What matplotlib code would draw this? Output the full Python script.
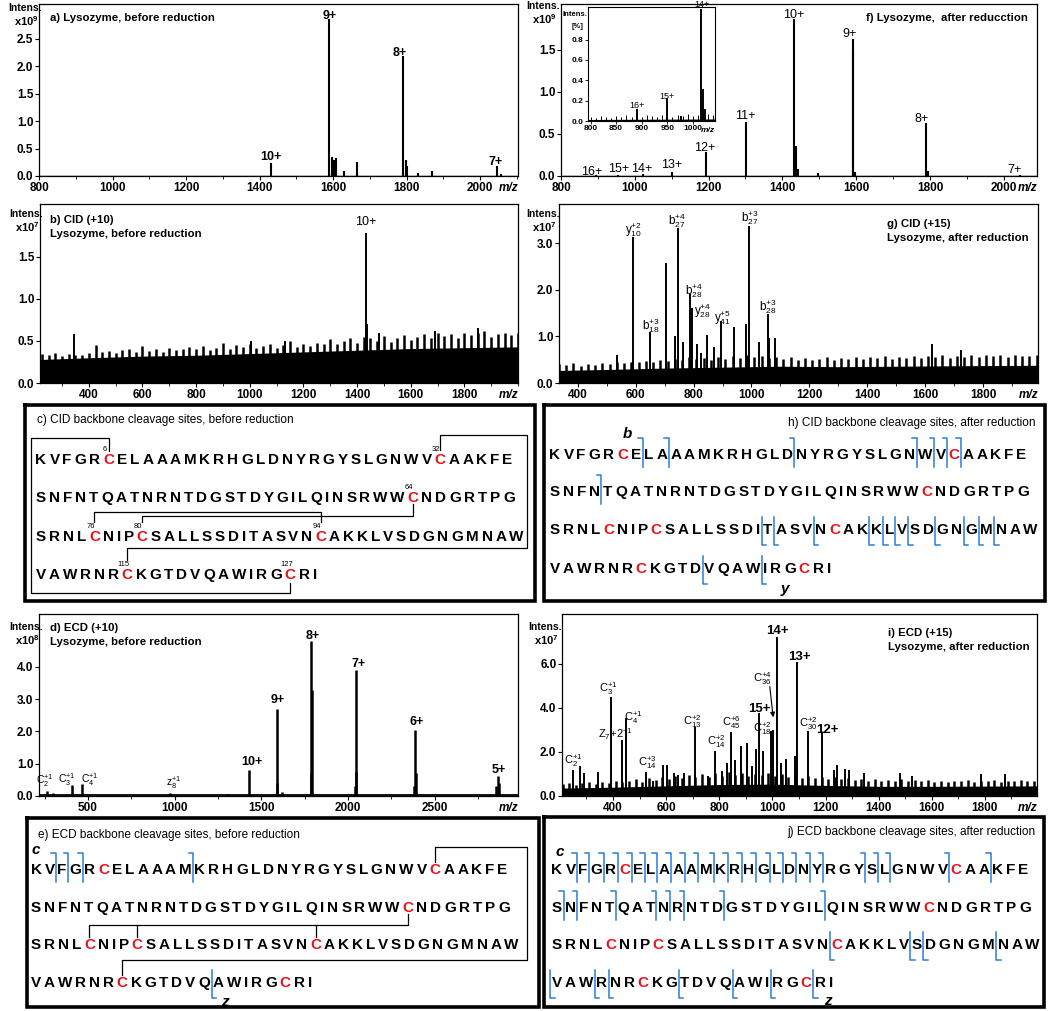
import numpy as np
import matplotlib
matplotlib.use("Agg")
import matplotlib.pyplot as plt
from matplotlib.ticker import MultipleLocator

plt.rcParams['font.family'] = ['Liberation Sans', 'DejaVu Sans']
plt.rcParams['mathtext.fontset'] = 'custom'
plt.rcParams['mathtext.rm'] = 'Liberation Sans'
plt.rcParams['mathtext.bf'] = 'Liberation Sans:bold'
plt.rcParams['mathtext.default'] = 'rm'
NARROW = ['Liberation Sans Narrow', 'Liberation Sans', 'DejaVu Sans']

# ---------------- spectra values ----------------
# a) intact, before reduction  (x1e9)
a_mz = [1432, 1590, 1597, 1603, 1608, 1630, 1665, 1789, 1797, 1802, 1830, 1870, 2045, 2058]
a_int = [0.24, 2.85, 0.34, 0.30, 0.32, 0.09, 0.26, 2.19, 0.30, 0.19, 0.05, 0.09, 0.19, 0.03]
a_charge = ["10+", "9+", "8+", "7+"]

# f) intact, after reduction  (x1e9)
f_mz = [895, 955, 1023, 1100, 1193, 1301, 1431, 1436, 1441, 1497, 1590, 1592, 1597, 1789, 1794, 2045]
f_int = [0.01, 0.01, 0.02, 0.05, 0.28, 0.64, 1.86, 0.35, 0.08, 0.04, 1.62, 1.50, 0.05, 0.63, 0.06, 0.01]
f_charge = ["16+", "15+", "14+", "13+", "12+", "11+", "10+", "9+", "8+", "7+"]
# f) inset (relative)
fi_mz = [890, 949, 977, 1016, 1019, 1024]
fi_int = [0.12, 0.23, 0.05, 1.10, 0.31, 0.12]
fi_noise = [0.04, 0.03, 0.05, 0.04, 0.03, 0.05, 0.04, 0.06, 0.04, 0.05, 0.04, 0.06, 0.05,
            0.04, 0.06, 0.05, 0.04, 0.06, 0.05, 0.07, 0.05, 0.06, 0.08, 0.07, 0.06]
fi_charge = ["16+", "15+", "14+"]

# b) CID (+10) before reduction  (x1e7)
b_mz = [345, 1005, 1130, 1432, 1437, 1480, 1690, 1850]
b_int = [0.58, 0.50, 0.50, 1.78, 0.70, 0.60, 0.62, 0.66]
b_noise = [0.34, 0.33, 0.36, 0.32, 0.35, 0.33, 0.33, 0.36, 0.45, 0.37,
           0.38, 0.36, 0.39, 0.41, 0.37, 0.44, 0.38, 0.40, 0.37, 0.42,
           0.39, 0.41, 0.43, 0.40, 0.44, 0.39, 0.42, 0.48, 0.41, 0.45,
           0.43, 0.47, 0.42, 0.44, 0.46, 0.42, 0.45, 0.50, 0.43, 0.47,
           0.44, 0.48, 0.46, 0.52, 0.47, 0.50, 0.54, 0.48, 0.55, 0.53,
           0.50, 0.56, 0.49, 0.54, 0.57, 0.51, 0.55, 0.58, 0.53, 0.60,
           0.56, 0.58, 0.54, 0.60, 0.57, 0.59, 0.62, 0.55, 0.58, 0.60,
           0.57, 0.59]
b_floor_mz = [218, 400, 600, 800, 1000, 1200, 1400, 1600, 1800, 2000]
b_floor = [0.28, 0.30, 0.32, 0.33, 0.35, 0.37, 0.39, 0.41, 0.42, 0.43]

# g) CID (+15) after reduction  (x1e7)
g_mz = [535, 592, 648, 704, 735, 746, 765, 788, 792, 796, 812, 825, 845, 870, 895,
        940, 980, 992, 1025, 1056, 1062, 1080, 1625, 1725]
g_int = [0.60, 3.14, 1.09, 2.57, 1.01, 3.33, 0.89, 1.90, 1.00, 1.60, 0.83, 0.64, 1.04, 0.78, 1.33,
         1.20, 1.27, 3.36, 0.89, 1.47, 0.96, 0.96, 0.84, 0.71]
g_ions = ["y$_{10}^{+2}$", "b$_{18}^{+3}$", "b$_{27}^{+4}$", "b$_{28}^{+4}$", "y$_{28}^{+4}$",
          "y$_{41}^{+5}$", "b$_{27}^{+3}$", "b$_{28}^{+3}$"]
g_noise = [0.40, 0.38, 0.42, 0.37, 0.41, 0.39, 0.43, 0.40, 0.45, 0.42,
           0.46, 0.44, 0.48, 0.45, 0.50, 0.47, 0.52, 0.49, 0.55, 0.51,
           0.53, 0.50, 0.56, 0.52, 0.58, 0.54, 0.60, 0.55, 0.58, 0.53,
           0.56, 0.52, 0.55, 0.50, 0.53, 0.49, 0.52, 0.55, 0.50, 0.54,
           0.52, 0.56, 0.51, 0.55, 0.53, 0.57, 0.52, 0.56, 0.54, 0.58,
           0.53, 0.57, 0.55, 0.59, 0.54, 0.58, 0.56, 0.60, 0.55, 0.59,
           0.57, 0.61, 0.56, 0.60, 0.58, 0.57, 0.59]
g_floor_mz = [335, 500, 700, 900, 1100, 1300, 1500, 1700, 1990]
g_floor = [0.27, 0.29, 0.32, 0.34, 0.36, 0.35, 0.36, 0.37, 0.38]

# d) ECD (+10) before reduction  (x1e8)
d_mz = [265, 300, 410, 467, 975, 1309, 1431, 1590, 1593, 1620, 1787, 1789, 1792,
        2042, 2044, 2048, 2383, 2385, 2389, 2855, 2862, 2868]
d_int = [0.15, 0.08, 0.35, 0.38, 0.10, 0.05, 0.82, 2.71, 0.40, 0.12, 0.70, 4.80, 3.30,
         0.30, 3.92, 0.75, 0.30, 2.04, 0.70, 0.30, 0.62, 0.40]
d_ions = ["C$_2^{+1}$", "C$_3^{+1}$", "C$_4^{+1}$", "z$_8^{+1}$"]
d_charge = ["10+", "9+", "8+", "7+", "6+", "5+"]

# i) ECD (+15) after reduction  (x1e7)
i_mz = [250, 275, 291, 344, 394, 435, 450, 525, 550, 588, 604, 629, 646, 666, 710, 756,
        785, 812, 829, 846, 859, 881, 906, 925, 939, 951, 966, 994, 1004, 1019, 1034,
        1052, 1084, 1094, 1134, 1185, 1231, 1244, 1275, 1288, 1344, 1481, 1525, 1787, 1875]
i_int = [1.18, 1.36, 1.03, 1.10, 4.52, 2.56, 3.55, 1.09, 0.68, 1.40, 1.43, 1.06, 0.94, 1.06, 3.14, 0.90,
         2.04, 1.13, 1.50, 2.91, 1.63, 2.26, 2.41, 1.36, 2.14, 3.77, 2.04, 2.94, 3.00, 7.24, 1.50,
         1.66, 1.80, 6.10, 2.94, 2.87, 1.20, 1.43, 1.24, 1.20, 1.06, 1.06, 0.90, 0.98, 0.98]
i_ions = ["C$_2^{+1}$", "C$_3^{+1}$", "Z$_7$+2$^{+1}$", "C$_4^{+1}$", "C$_{14}^{+3}$", "C$_{13}^{+2}$",
          "C$_{14}^{+2}$", "C$_{45}^{+6}$", "C$_{18}^{+2}$", "C$_{36}^{+4}$", "C$_{30}^{+2}$"]
i_charge = ["15+", "14+", "13+", "12+"]
i_noise = [0.55, 0.60, 0.52, 0.58, 0.62, 0.55, 0.65, 0.60, 0.70, 0.62,
           0.68, 0.75, 0.65, 0.80, 0.72, 0.85, 0.75, 0.90, 0.80, 0.95,
           0.85, 1.00, 0.88, 1.05, 0.92, 1.10, 0.95, 1.05, 0.90, 1.00,
           0.95, 1.05, 0.90, 1.00, 0.85, 0.95, 0.82, 0.90, 0.80, 0.85,
           0.78, 0.85, 0.75, 0.80, 0.72, 0.78, 0.70, 0.75, 0.68, 0.72,
           0.70, 0.78, 0.68, 0.74, 0.66, 0.72, 0.65, 0.70, 0.64, 0.70,
           0.66, 0.72, 0.64, 0.70, 0.66, 0.74, 0.65, 0.70, 0.68, 0.72,
           0.66, 0.70]
i_floor_mz = [208, 400, 600, 800, 1000, 1200, 1400, 1600, 1800, 1996]
i_floor = [0.36, 0.40, 0.46, 0.52, 0.54, 0.48, 0.44, 0.44, 0.45, 0.46]

# ---------------- sequence panels ----------------
SEQ = ("KVFGRCELAAAMKRHGLDNYRGYSLGNWVCAAKFE"
       "SNFNTQATNRNTDGSTDYGILQINSRWWCNDGRTPG"
       "SRNLCNIPCSALLSSDITASVNCAKKLVSDGNGMNAW"
       "VAWRNRCKGTDVQAWIRGCRI")
ROW_LEN = [35, 36, 37, 21]
CYS_LABEL = {6: "6", 30: "32", 64: "64", 76: "76", 80: "80", 94: "94", 115: "115", 127: "127"}
# cleavage sites: number = residue after which the backbone is cut
h_b_sites = [7, 9, 18, 27, 28, 29, 30, 39]
h_y_sites = [88, 89, 92, 96, 97, 98, 99, 101, 103, 104, 105, 119, 123]
e_c_sites = [2, 3, 4, 12]
e_z_sites = [121]
j_c_sites = [2, 3, 4, 5, 6, 7, 8, 9, 10, 11, 12, 13, 14, 15, 16, 17, 18, 19, 20, 23, 24, 25,
             29, 32, 36, 37, 40, 43, 44, 45, 48, 56]
j_z_sites = [93, 99, 100, 105, 108, 111, 112, 117, 121, 124, 127]

# Arial / Liberation Sans Bold advance widths (1/1000 em)
ADV = {'A': 722, 'C': 722, 'D': 722, 'E': 667, 'F': 611, 'G': 778, 'H': 722, 'I': 278,
       'K': 722, 'L': 611, 'M': 833, 'N': 722, 'P': 667, 'Q': 778, 'R': 722, 'S': 667,
       'T': 611, 'V': 667, 'W': 944, 'Y': 667}

W, H = 1050, 1011
fig = plt.figure(figsize=(W / 100, H / 100), dpi=100)
fig.patch.set_facecolor('white')
RED = '#e8141c'
BLUE = '#2a7fd4'


def px_axes(l, t, r, b):
    return fig.add_axes([l / W, 1 - b / H, (r - l) / W, (b - t) / H])


def spectrum(l, t, r, b, xlim, ylim, xt, yt, xminor=None, fs=8.5):
    ax = px_axes(l, t, r, b)
    ax.set_xlim(xlim)
    ax.set_ylim(ylim)
    ax.set_xticks(xt)
    ax.set_yticks(yt)
    ax.set_xticklabels([str(v) for v in xt], fontweight='bold', fontsize=fs)
    ax.set_yticklabels(['%.1f' % v for v in yt], fontweight='bold', fontsize=fs)
    if xminor:
        ax.xaxis.set_minor_locator(MultipleLocator(xminor))
    ax.tick_params(direction='out', length=3, width=0.8, pad=1)
    ax.tick_params(which='minor', direction='out', length=2, width=0.6)
    for s in ax.spines.values():
        s.set_linewidth(0.9)
    return ax


def mz_label(ax, fs=8.5):
    ax.text(1.0, -0.035, 'm/z', transform=ax.transAxes, ha='right', va='top',
            fontsize=fs, style='italic', weight='bold')


def intens(x, y, exp):
    fig.text(x / W, 1 - y / H, 'Intens.', ha='right', va='center', fontsize=7.5,
             weight='bold', family=NARROW)
    fig.text((x - 3) / W, 1 - (y + 13) / H, 'x10$^{\\mathbf{%s}}$' % exp, ha='right',
             va='center', fontsize=8, weight='bold', family=NARROW)


def title(x, y, lines, ha='left'):
    for k, s in enumerate(lines):
        fig.text(x / W, 1 - (y + 14 * k) / H, s, ha=ha, va='center', fontsize=8.2,
                 weight='bold', family=NARROW)


def noise(ax, floor_mz, floor, grid, tops):
    ax.fill_between(floor_mz, 0, floor, color='black', lw=0)
    ax.vlines(grid, 0, tops, color='black', lw=1.8)


# ---- a
ax = spectrum(39, 4, 518, 176, (800, 2103), (0, 3.13), list(range(800, 2001, 200)),
              [0.0, 0.5, 1.0, 1.5, 2.0, 2.5], 100)
ax.vlines(a_mz, 0, a_int, color='black', lw=1.5)
ax.hlines(0.005, 800, 2103, color='black', lw=1.0)
for lab, x, y in zip(a_charge, [1430, 1590, 1780, 2043], [0.35, 2.92, 2.23, 0.26]):
    ax.text(x, y, lab, ha='center', va='center', fontsize=9, weight='bold')
mz_label(ax)
intens(42, 8, '9')
title(50, 18, ["a) Lysozyme, before reduction"])

# ---- f
ax = spectrum(561, 4, 1037, 176, (800, 2090), (0, 2.04), list(range(800, 2001, 200)),
              [0.0, 0.5, 1.0, 1.5], 100)
ax.vlines(f_mz, 0, f_int, color='black', lw=1.5)
ax.hlines(0.004, 800, 2090, color='black', lw=1.0)
f_lx = [883, 955, 1019, 1100, 1190, 1299, 1430, 1583, 1777, 2030]
f_ly = [0.05, 0.08, 0.08, 0.13, 0.33, 0.71, 1.91, 1.69, 0.68, 0.07]
for lab, x, y in zip(f_charge, f_lx, f_ly):
    ax.text(x, y, lab, ha='center', va='center', fontsize=9)
mz_label(ax)
intens(560, 6, '9')
title(1028, 18, ["f) Lysozyme,  after reducction"], ha='right')

axi = px_axes(588, 7, 715, 121)
axi.set_xlim(795, 1043)
axi.set_ylim(0, 1.12)
axi.set_xticks([800, 850, 900, 950, 1000])
axi.set_yticks([0.0, 0.2, 0.4, 0.6, 0.8])
axi.set_xticklabels(['800', '850', '900', '950', '1000'], fontsize=6, weight='bold')
axi.set_yticklabels(['0.0', '0.2', '0.4', '0.6', '0.8'], fontsize=6, weight='bold')
axi.tick_params(direction='out', length=2, width=0.6, pad=1)
axi.fill_between([795, 1043], 0, [0.015, 0.02], color='black', lw=0)
axi.vlines(np.arange(800, 1041, 10), 0, fi_noise, color='black', lw=0.7)
axi.vlines(fi_mz, 0, fi_int, color='black', lw=1.4)
for lab, x, y in zip(fi_charge, [891, 950, 1017], [0.15, 0.24, 1.14]):
    axi.text(x, y, lab, ha='center', va='center', fontsize=6.5)
axi.text(1.0, -0.05, 'm/z', transform=axi.transAxes, ha='right', va='top', fontsize=6,
         style='italic', weight='bold')
fig.text(587 / W, 1 - 14 / H, 'Intens.', ha='right', va='center', fontsize=5.5, weight='bold')
fig.text(584 / W, 1 - 26 / H, '[%]', ha='right', va='center', fontsize=5.5, weight='bold')

# ---- b
ax = spectrum(40, 204, 518, 383, (218, 2000), (0, 2.13), list(range(400, 1801, 200)),
              [0.0, 0.5, 1.0, 1.5], 100)
noise(ax, b_floor_mz, b_floor, np.arange(225, 2001, 25), b_noise)
ax.vlines(b_mz, 0, b_int, color='black', lw=1.4)
ax.text(1434, 1.92, "10+", ha='center', va='center', fontsize=9)
mz_label(ax)
intens(43, 214, '7')
title(50, 220, ["b) CID (+10)", "Lysozyme, before reduction"])

# ---- g
ax = spectrum(559, 204, 1038, 383, (335, 1990), (0, 3.84), list(range(400, 1801, 200)),
              [0.0, 1.0, 2.0, 3.0], 100)
noise(ax, g_floor_mz, g_floor, np.arange(335, 1986, 25), g_noise)
ax.vlines(g_mz, 0, g_int, color='black', lw=1.4)
g_lx = [594, 653, 743, 802, 830, 899, 996, 1055]
g_ly = [3.28, 1.24, 3.49, 1.99, 1.56, 1.41, 3.54, 1.63]
for lab, x, y in zip(g_ions, g_lx, g_ly):
    ax.text(x, y, lab, ha='center', va='center', fontsize=8.5)
mz_label(ax)
intens(560, 214, '7')
title(887, 224, ["g) CID (+15)", "Lysozyme, after reduction"])

# ---- d
ax = spectrum(39, 614, 518, 796, (218, 2980), (0, 5.64), [500, 1000, 1500, 2000, 2500],
              [0.0, 1.0, 2.0, 3.0, 4.0], 250)
ax.hlines(0.03, 218, 2980, color='black', lw=1.3)
ax.vlines(d_mz, 0, d_int, color='black', lw=1.8)
for lab, x, y in zip(d_ions, [253, 378, 512, 992], [0.47, 0.5, 0.5, 0.4]):
    ax.text(x, y, lab, ha='center', va='center', fontsize=7.5)
for lab, x, y in zip(d_charge, [1447, 1597, 1799, 2058, 2395, 2869],
                     [1.05, 2.97, 4.97, 4.1, 2.28, 0.82]):
    ax.text(x, y, lab, ha='center', va='center', fontsize=9, weight='bold')
mz_label(ax)
intens(43, 627, '8')
title(50, 628, ["d) ECD (+10)", "Lysozyme, before reduction"])

# ---- i
ax = spectrum(562, 614, 1037, 796, (208, 1996), (0, 8.27), list(range(400, 1801, 200)),
              [0.0, 2.0, 4.0, 6.0], 100)
noise(ax, i_floor_mz, i_floor, np.arange(210, 1986, 25), i_noise)
ax.vlines(i_mz, 0, i_int, color='black', lw=1.4)
i_lx = [250, 381, 410, 478, 531, 700, 790, 845, 962, 962, 1137]
i_ly = [1.62, 4.9, 2.8, 3.55, 1.5, 3.4, 2.45, 3.35, 3.05, 5.35, 3.3]
for lab, x, y in zip(i_ions, i_lx, i_ly):
    ax.text(x, y, lab, ha='center', va='center', fontsize=8)
for lab, x, y in zip(i_charge, [950, 1019, 1100, 1205], [3.95, 7.5, 6.3, 3.0]):
    ax.text(x, y, lab, ha='center', va='center', fontsize=9.5, weight='bold')
ax.annotate('', xy=(1004, 3.45), xytext=(989, 5.1),
            arrowprops=dict(arrowstyle='-|>', lw=0.8, color='black', mutation_scale=7))
mz_label(ax)
intens(562, 627, '7')
title(888, 633, ["i) ECD (+15)", "Lysozyme, after reduction"])

# ---------------- overlay in pixel coordinates for the sequence boxes ----------------
ov = fig.add_axes([0, 0, 1, 1])
ov.set_xlim(0, W)
ov.set_ylim(H, 0)
ov.axis('off')

FS_PX = 15.2
FS_PT = FS_PX * 0.72
GAP = 2.9
CAP = 0.716 * FS_PX


def seq_layout(x0, row_ys):
    pos = {}
    n = 1
    for r, length in enumerate(ROW_LEN):
        x = x0
        prev = None
        for k in range(length):
            w = ADV[SEQ[n - 1]] * FS_PX / 1000
            if prev is not None:
                x += (prev + w) / 2 + GAP
            pos[n] = (x, row_ys[r], w)
            prev = w
            n += 1
    return pos


def draw_seq(pos):
    for n, (x, y, w) in pos.items():
        ch = SEQ[n - 1]
        ov.text(x, y + CAP / 2, ch, ha='center', va='baseline', fontsize=FS_PT,
                weight='bold', color=RED if ch == 'C' else 'black')


def n_mark(pos, n):
    x, y, w = pos[n]
    xb = x + w / 2 + GAP / 2
    ov.plot([xb - 4.5, xb, xb], [y - 16, y - 16, y + 13], color=BLUE, lw=1.1)


def c_mark(pos, n):
    x, y, w = pos[n + 1]
    xb = x - w / 2 - GAP / 2
    ov.plot([xb, xb, xb + 4.5], [y - 12, y + 16, y + 16], color=BLUE, lw=1.1)


def box(l, t, r, b):
    ov.plot([l, r, r, l, l], [t, t, b, b, t], color='black', lw=2.6, solid_joinstyle='miter')


def bond(xs, ys):
    ov.plot(xs, ys, color='black', lw=0.9)


box(25, 405, 535, 601)
box(544, 405, 1045, 601)
box(27, 818, 539, 1007)
box(544, 817, 1044, 1007)

# c) CID before reduction
pc = seq_layout(41, [459, 497, 536, 574])
draw_seq(pc)
for n, s in CYS_LABEL.items():
    x, y, w = pc[n]
    ov.text(x - 4, y - 6, s, ha='center', va='bottom', fontsize=5.5)
x = {n: pc[n][0] for n in CYS_LABEL}
bond([x[6], x[6], 31, 31, x[127], x[127]], [451, 438, 438, 593, 593, 583])
bond([x[30], x[30], 527, 527, x[115], x[115]], [450, 435, 435, 548, 548, 560])
bond([x[64], x[64], x[80], x[80]], [504, 516, 516, 522])
bond([x[76], x[76], x[94], x[94]], [522, 512, 512, 522])
ov.text(37, 420, "c) CID backbone cleavage sites, before reduction", ha='left', va='center',
        fontsize=8.5, family=NARROW)

# h) CID after reduction
ph = seq_layout(555, [454, 491, 529, 568])
draw_seq(ph)
for n in h_b_sites:
    n_mark(ph, n)
for n in h_y_sites:
    c_mark(ph, n)
ov.text(627, 434, "b", ha='center', va='center', fontsize=11, style='italic', weight='bold')
ov.text(785, 589, "y", ha='center', va='center', fontsize=11, style='italic', weight='bold')
ov.text(1035, 423, "h) CID backbone cleavage sites, after reduction", ha='right', va='center',
        fontsize=8.5, family=NARROW)

# e) ECD before reduction
pe = seq_layout(36, [869, 907, 944, 982])
draw_seq(pe)
for n in e_c_sites:
    n_mark(pe, n)
for n in e_z_sites:
    c_mark(pe, n)
x = {n: pe[n][0] for n in CYS_LABEL}
bond([x[30], x[30], 527, 527, x[115], x[115]], [862, 847, 847, 960, 960, 975])
bond([x[76], x[76], x[64], x[64]], [937, 925, 925, 914])
bond([x[80], x[80]], [925, 937])
bond([x[94], x[94]], [925, 937])
ov.text(36, 850, "c", ha='center', va='center', fontsize=11, style='italic', weight='bold')
ov.text(225, 1002, "z", ha='center', va='center', fontsize=11, style='italic', weight='bold')
ov.text(38, 835, "e) ECD backbone cleavage sites, before reduction", ha='left', va='center',
        fontsize=8.5, family=NARROW)

# j) ECD after reduction
pj = seq_layout(557, [869, 907, 944, 982])
draw_seq(pj)
for n in j_c_sites:
    n_mark(pj, n)
for n in j_z_sites:
    c_mark(pj, n)
ov.text(560, 852, "c", ha='center', va='center', fontsize=11, style='italic', weight='bold')
ov.text(828, 1001, "z", ha='center', va='center', fontsize=11, style='italic', weight='bold')
ov.text(1035, 832, "j) ECD backbone cleavage sites, after reduction", ha='right', va='center',
        fontsize=8.5, family=NARROW)

fig.savefig("out.png", dpi=100, facecolor='white')
